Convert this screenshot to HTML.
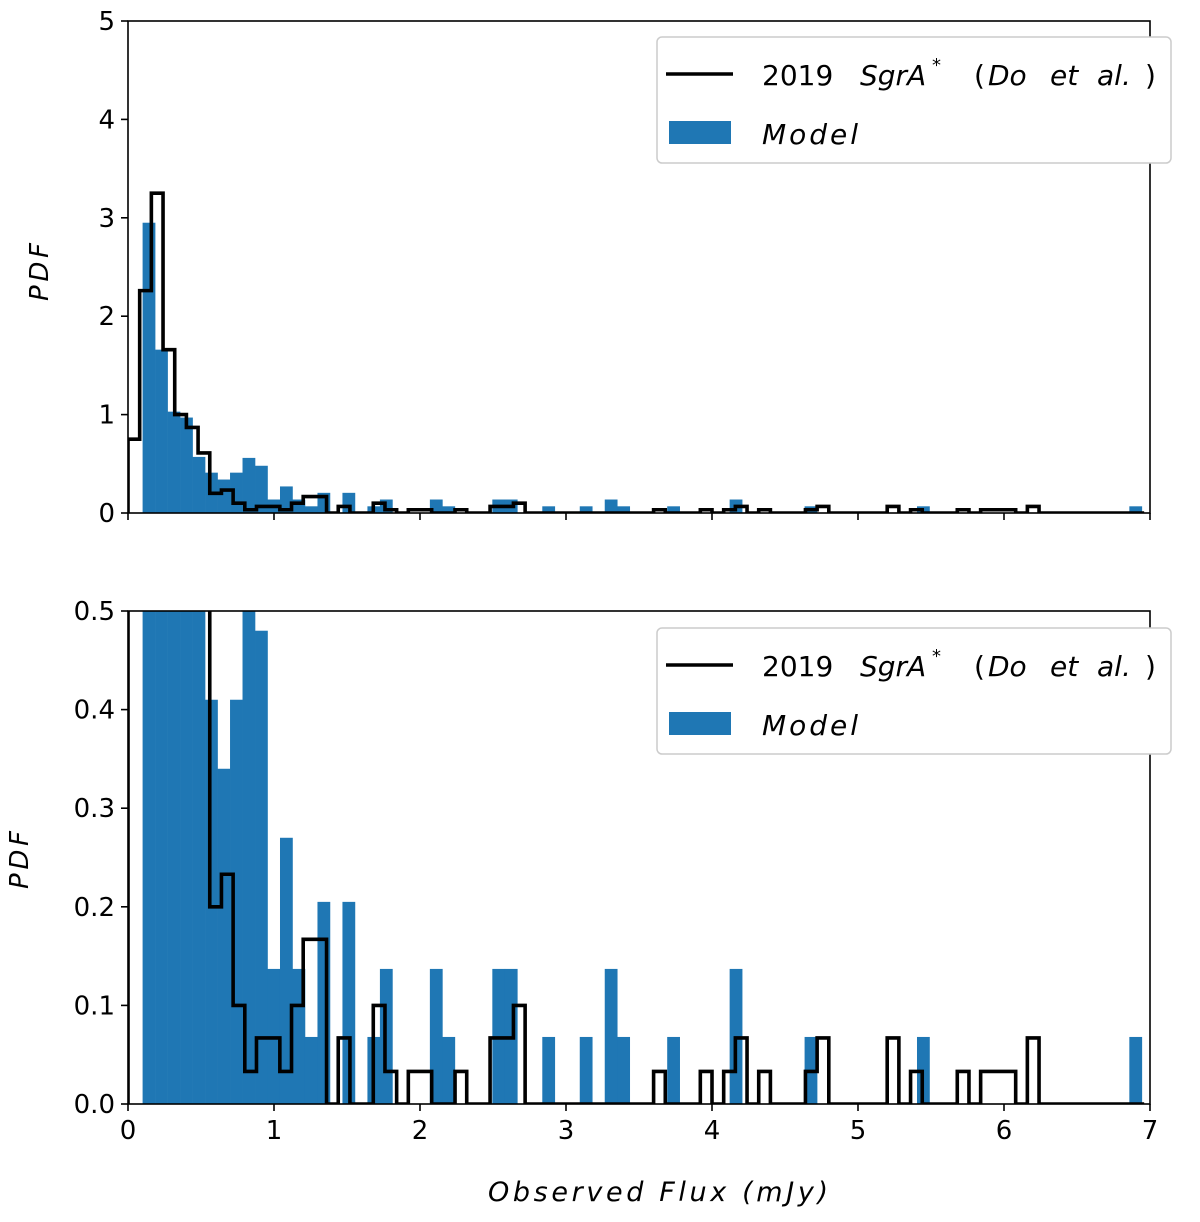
<!DOCTYPE html>
<html><head><meta charset="utf-8">
<style>
html,body{margin:0;padding:0;background:#fff;}
svg{display:block;font-family:"DejaVu Sans","Liberation Sans",sans-serif;}
</style></head>
<body>
<svg id="fig" width="1200" height="1222" viewBox="0 0 1200 1222" xmlns="http://www.w3.org/2000/svg">
<defs>
<clipPath id="clipTop"><rect x="128" y="21" width="1022" height="492"/></clipPath>
<clipPath id="clipBot"><rect x="128" y="611" width="1022" height="493"/></clipPath>
</defs>
<g id="top"></g>
<g id="bot"></g>
<text x="48" y="272" transform="rotate(-90 48 272)" text-anchor="middle" font-size="26" font-style="italic" textLength="58">PDF</text>
<text x="28" y="860" transform="rotate(-90 28 860)" text-anchor="middle" font-size="26" font-style="italic" textLength="58">PDF</text>
<text x="488" y="1201" font-size="27" font-style="italic" textLength="340" lengthAdjust="spacing">Observed Flux (mJy)</text>
</svg>
<script>
const modelStart = 0.1;
const modelWidth = 0.08555;
const modelValues = [2.95,1.66,1.03,0.97,0.57,0.41,0.34,0.41,0.56,0.48,
0.137,0.27,0.137,0.068,0.205,0,0.205,0,0.068,0.137,
0,0,0,0.137,0.068,0,0,0,0.137,0.137,
0,0,0.068,0,0,0.068,0,0.137,0.068,0,
0,0,0.068,0,0,0,0,0.137,0,0,
0,0,0,0.068,0,0,0,0,0,0,
0,0,0.068,0,0,0,0,0,0,0,
0,0,0,0,0,0,0,0,0,0.068];
const dataStart = 0;
const dataWidth = 0.08;
const dataValues = [0.75,2.26,3.25,1.66,1.0,0.87,0.61,0.2,0.233,0.1,
0.033,0.067,0.067,0.033,0.1,0.167,0.167,0,0.067,0,
0,0.1,0.033,0,0.033,0.033,0,0,0.033,0,
0,0.067,0.067,0.1,0,0,0,0,0,0,
0,0,0,0,0,0.033,0,0,0,0.033,
0,0.033,0.067,0,0.033,0,0,0,0.033,0.067,
0,0,0,0,0,0.067,0,0.033,0,0,
0,0.033,0,0.033,0.033,0.033,0,0.067,0,0,
0,0,0,0,0,0,0];
const xTicks = [0,1,2,3,4,5,6,7];
const topYTicks = [0,1,2,3,4,5];
const botYTicks = [0,0.1,0.2,0.3,0.4,0.5];
const botYLabels = ["0.0","0.1","0.2","0.3","0.4","0.5"];

const NS="http://www.w3.org/2000/svg";
const X0=128, X1=1150;
function xs(v){return X0+(v/7)*(X1-X0);}
function mk(tag,attrs,parent){const e=document.createElementNS(NS,tag);for(const k in attrs)e.setAttribute(k,attrs[k]);parent.appendChild(e);return e;}

function panel(g,top,bottom,ymax,yTicks,yLabels,showX,clip,legendY,prefix){
  const ys=v=>bottom-(v/ymax)*(bottom-top);
  const bars=mk('g',{'clip-path':'url(#'+clip+')'},g);
  
  
  modelValues.forEach((v,i)=>{
    if(v<=0)return;
    const a=xs(modelStart+i*modelWidth), b=xs(modelStart+(i+1)*modelWidth);
    const r=mk('rect',{x:a,y:ys(v),width:b-a+0.3,height:bottom-ys(v),fill:'#1f77b4'},bars);
    
    
  });
  let d='M'+xs(dataStart)+','+bottom;
  dataValues.forEach((v,i)=>{
    const a=xs(dataStart+i*dataWidth), b=xs(dataStart+(i+1)*dataWidth);
    d+=' L'+a+','+ys(v)+' L'+b+','+ys(v);
  });
  d+=' L'+xs(dataStart+dataValues.length*dataWidth)+','+bottom;
  const p=mk('path',{d:d,fill:'none',stroke:'#000','stroke-width':3.6,'stroke-linejoin':'miter','clip-path':'url(#'+clip+')'},g);
  
  
  const fr=mk('rect',{x:X0,y:top,width:X1-X0,height:bottom-top,fill:'none',stroke:'#000','stroke-width':1.6},g);
  
  
  yTicks.forEach((t,i)=>{
    const y=ys(t);
    mk('line',{x1:X0-7,x2:X0,y1:y,y2:y,stroke:'#000','stroke-width':1.6},g);
    const tx=mk('text',{x:X0-13,y:y+9,'text-anchor':'end','font-size':26,fill:'#000'},g);
    tx.textContent=yLabels[i];
    
    
  });
  xTicks.forEach(t=>{
    const x=xs(t);
    mk('line',{x1:x,x2:x,y1:bottom,y2:bottom+7,stroke:'#000','stroke-width':1.6},g);
    if(showX){
      const tx=mk('text',{x:x,y:bottom+35,'text-anchor':'middle','font-size':26,fill:'#000'},g);
      tx.textContent=String(t);
      
      
    }
  });
  const lg=mk('g',{},g);
  
  
  mk('rect',{x:657,y:legendY,width:514,height:126,rx:5,fill:'#fff',stroke:'#ccc','stroke-width':1.5},lg);
  mk('line',{x1:666,x2:733,y1:legendY+37,y2:legendY+37,stroke:'#000','stroke-width':3.6},lg);
  mk('rect',{x:669,y:legendY+84,width:62,height:23,fill:'#1f77b4'},lg);
  const t1=mk('text',{'font-size':28,fill:'#000'},lg);
  const yb=legendY+48;
  t1.innerHTML='<tspan x="762" y="'+yb+'">2019</tspan><tspan x="860" y="'+yb+'" font-style="italic">SgrA</tspan><tspan x="932" y="'+(yb-14)+'" font-size="18">*</tspan><tspan x="974" y="'+yb+'">(</tspan><tspan x="988" y="'+yb+'" font-style="italic">Do</tspan><tspan x="1050" y="'+yb+'" font-style="italic">et</tspan><tspan x="1097" y="'+yb+'" font-style="italic">al.</tspan><tspan x="1145" y="'+yb+'">)</tspan>';
  
  
  const t2=mk('text',{x:762,y:legendY+107,'font-size':28,'font-style':'italic',fill:'#000',textLength:96},lg);
  t2.textContent='Model';
  
  
}
panel(document.getElementById('top'),21,513,5,topYTicks,topYTicks.map(String),false,'clipTop',37,'top');
panel(document.getElementById('bot'),611,1104,0.5,botYTicks,botYLabels,true,'clipBot',628,'bottom');
</script>
</body></html>
